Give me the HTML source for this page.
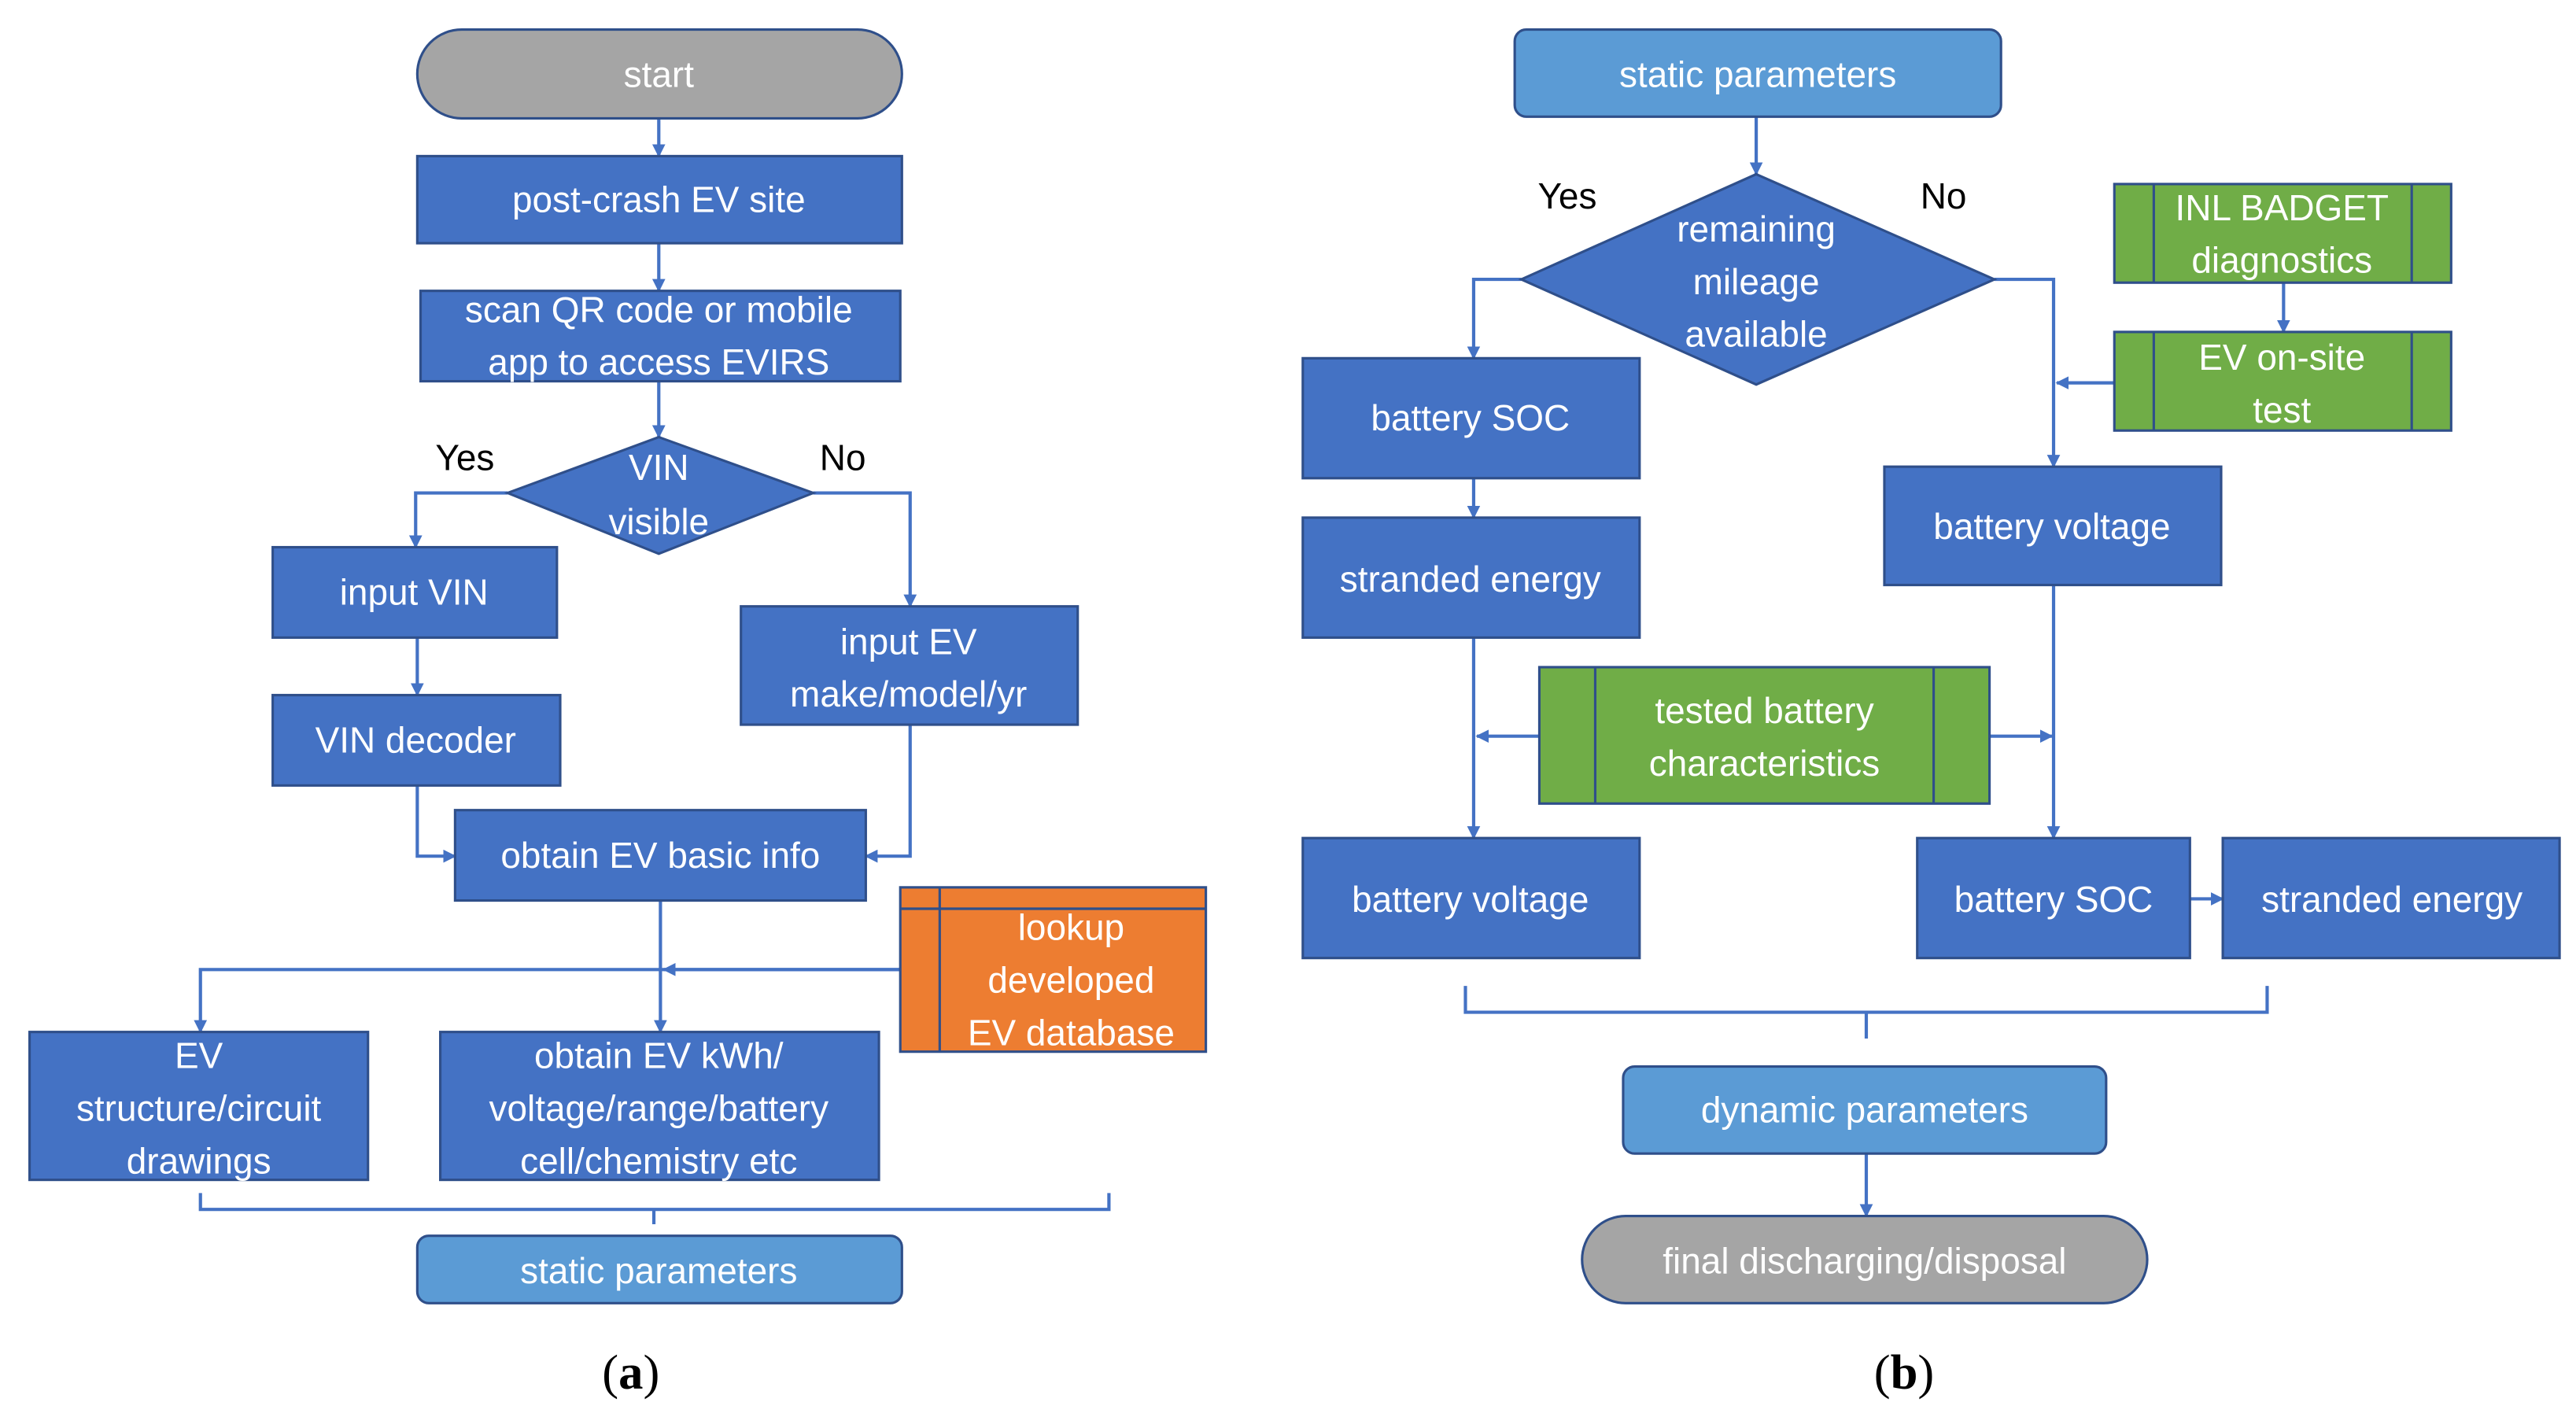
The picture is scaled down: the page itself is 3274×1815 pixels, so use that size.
<!DOCTYPE html>
<html><head><meta charset="utf-8"><style>
html,body{margin:0;padding:0;background:#fff;}
svg{display:block;}
text{font-family:"Liberation Sans",sans-serif;}
.t{fill:#fff;font-size:22px;text-anchor:middle;}
.k{fill:#000;font-size:22px;text-anchor:middle;}
.b{fill:#4472c4;stroke:#2f4f8a;stroke-width:1.5;}
.g{fill:#70ad47;stroke:#2f4f8a;stroke-width:1.5;}
.o{fill:#ed7d31;stroke:#2f4f8a;stroke-width:1.5;}
.l{fill:none;stroke:#4472c4;stroke-width:2;}
</style></head><body>
<svg width="3274" height="1815" viewBox="0 0 1568 869" preserveAspectRatio="none" xmlns="http://www.w3.org/2000/svg">
<defs><marker id="a" viewBox="0 0 10 10" refX="9" refY="5" markerWidth="4" markerHeight="4" orient="auto"><path d="M0,0 L10,5 L0,10 z" fill="#4472c4"/></marker></defs>
<g class="l">
<path d="M401,72 V95" marker-end="url(#a)"/>
<path d="M401,148 V177" marker-end="url(#a)"/>
<path d="M401,232 V266" marker-end="url(#a)"/>
<path d="M309,300 H253 V333" marker-end="url(#a)"/>
<path d="M495,300 H554 V369" marker-end="url(#a)"/>
<path d="M254,388 L254,423" marker-end="url(#a)"/>
<path d="M254,478 V521 H277" marker-end="url(#a)"/>
<path d="M554,441 V521 H527" marker-end="url(#a)"/>
<path d="M402,548 V628" marker-end="url(#a)"/>
<path d="M548,590 H122 V628" marker-end="url(#a)"/>
<path d="M548,590 H404" marker-end="url(#a)"/>
<path d="M122,726 V736 H675 V726 M398,736 V745"/>
</g>
<rect x="254" y="18" width="295" height="54" rx="27" fill="#a5a5a5" stroke="#2f4f8a" stroke-width="1.5"/>
<text class="t" x="401" y="53">start</text>
<rect class="b" x="254" y="95" width="295" height="53"/><text class="t" x="401" y="129">post-crash EV site</text>
<rect class="b" x="256" y="177" width="292" height="55"/><text class="t" x="401" y="196">scan QR code or mobile</text><text class="t" x="401" y="228">app to access EVIRS</text>
<polygon class="b" points="401,266 495,300 401,337 309,300"/><text class="t" x="401" y="292">VIN</text><text class="t" x="401" y="325">visible</text>
<text class="k" x="283" y="286">Yes</text><text class="k" x="513" y="286">No</text>
<rect class="b" x="166" y="333" width="173" height="55"/><text class="t" x="252" y="368">input VIN</text>
<rect class="b" x="451" y="369" width="205" height="72"/><text class="t" x="553" y="398">input EV</text><text class="t" x="553" y="430">make/model/yr</text>
<rect class="b" x="166" y="423" width="175" height="55"/><text class="t" x="253" y="458">VIN decoder</text>
<rect class="b" x="277" y="493" width="250" height="55"/><text class="t" x="402" y="528">obtain EV basic info</text>
<rect class="o" x="548" y="540" width="186" height="100"/><path d="M548,553 H734 M572,540 V640" stroke="#2f4f8a" stroke-width="1.5"/>
<text class="t" x="652" y="572">lookup</text><text class="t" x="652" y="604">developed</text><text class="t" x="652" y="636">EV database</text>
<rect class="b" x="18" y="628" width="206" height="90"/><text class="t" x="121" y="650">EV</text><text class="t" x="121" y="682">structure/circuit</text><text class="t" x="121" y="714">drawings</text>
<rect class="b" x="268" y="628" width="267" height="90"/><text class="t" x="401" y="650">obtain EV kWh/</text><text class="t" x="401" y="682">voltage/range/battery</text><text class="t" x="401" y="714">cell/chemistry etc</text>
<rect x="254" y="752" width="295" height="41" rx="7" fill="#5b9bd5" stroke="#2f4f8a" stroke-width="1.5"/><text class="t" x="401" y="781">static parameters</text>
<text x="384" y="845" font-size="30" text-anchor="middle" style="font-family:'Liberation Serif',serif">(<tspan font-weight="bold">a</tspan>)</text>
<g class="l">
<path d="M1069,71 V106" marker-end="url(#a)"/>
<path d="M926,170 H897 V218" marker-end="url(#a)"/>
<path d="M1214,170 H1250 V284" marker-end="url(#a)"/>
<path d="M1287,233 H1252" marker-end="url(#a)"/>
<path d="M1390,172 V202" marker-end="url(#a)"/>
<path d="M897,291 V315" marker-end="url(#a)"/>
<path d="M897,388 V510" marker-end="url(#a)"/>
<path d="M937,448 H899" marker-end="url(#a)"/>
<path d="M1211,448 H1249" marker-end="url(#a)"/>
<path d="M1250,356 V510" marker-end="url(#a)"/>
<path d="M1333,547 H1353" marker-end="url(#a)"/>
<path d="M1136,702 V740" marker-end="url(#a)"/>
<path d="M892,600 V616 H1380 V600 M1136,616 V632"/>
</g>
<rect x="922" y="18" width="296" height="53" rx="7" fill="#5b9bd5" stroke="#2f4f8a" stroke-width="1.5"/><text class="t" x="1070" y="53">static parameters</text>
<polygon class="b" points="1069,106 1214,170 1069,234 926,170"/>
<text class="t" x="1069" y="147">remaining</text><text class="t" x="1069" y="179">mileage</text><text class="t" x="1069" y="211">available</text>
<text class="k" x="954" y="127">Yes</text><text class="k" x="1183" y="127">No</text>
<rect class="g" x="1287" y="112" width="205" height="60"/><path d="M1311,112 V172 M1468,112 V172" stroke="#2f4f8a" stroke-width="1.5"/>
<text class="t" x="1389" y="134">INL BADGET</text><text class="t" x="1389" y="166">diagnostics</text>
<rect class="g" x="1287" y="202" width="205" height="60"/><path d="M1311,202 V262 M1468,202 V262" stroke="#2f4f8a" stroke-width="1.5"/>
<text class="t" x="1389" y="225">EV on-site</text><text class="t" x="1389" y="257">test</text>
<rect class="b" x="793" y="218" width="205" height="73"/><text class="t" x="895" y="262">battery SOC</text>
<rect class="b" x="1147" y="284" width="205" height="72"/><text class="t" x="1249" y="328">battery voltage</text>
<rect class="b" x="793" y="315" width="205" height="73"/><text class="t" x="895" y="360">stranded energy</text>
<rect class="g" x="937" y="406" width="274" height="83"/><path d="M971,406 V489 M1177,406 V489" stroke="#2f4f8a" stroke-width="1.5"/>
<text class="t" x="1074" y="440">tested battery</text><text class="t" x="1074" y="472">characteristics</text>
<rect class="b" x="793" y="510" width="205" height="73"/><text class="t" x="895" y="555">battery voltage</text>
<rect class="b" x="1167" y="510" width="166" height="73"/><text class="t" x="1250" y="555">battery SOC</text>
<rect class="b" x="1353" y="510" width="205" height="73"/><text class="t" x="1456" y="555">stranded energy</text>
<rect x="988" y="649" width="294" height="53" rx="7" fill="#5b9bd5" stroke="#2f4f8a" stroke-width="1.5"/><text class="t" x="1135" y="683">dynamic parameters</text>
<rect x="963" y="740" width="344" height="53" rx="26.5" fill="#a5a5a5" stroke="#2f4f8a" stroke-width="1.5"/><text class="t" x="1135" y="775">final discharging/disposal</text>
<text x="1159" y="845" font-size="30" text-anchor="middle" style="font-family:'Liberation Serif',serif">(<tspan font-weight="bold">b</tspan>)</text>
</svg>
</body></html>
